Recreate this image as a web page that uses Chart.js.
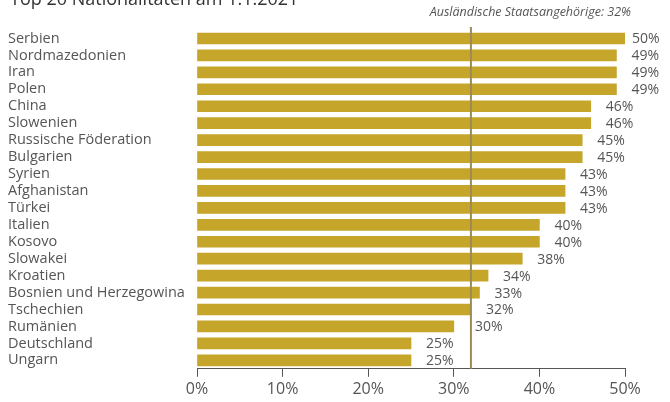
<!DOCTYPE html>
<html>
<head>
<meta charset="utf-8">
<script src="https://cdn.jsdelivr.net/npm/chart.js@4"></script>
<style>
  body { margin: 0; background: #fff; }
  #wrap { width: 670px; height: 402px; position: relative; }
</style>
</head>
<body>
<div id="wrap"><canvas id="nat_chart"></canvas></div>
<script>
// Nationalities and share of foreign citizens (percent).
var countries = ['Serbien', 'Nordmazedonien', 'Iran', 'Polen', 'China', 'Slowenien',
    'Russische Föderation', 'Bulgarien', 'Syrien', 'Afghanistan', 'Türkei', 'Italien',
    'Kosovo', 'Slowakei', 'Kroatien', 'Bosnien und Herzegowina', 'Tschechien',
    'Rumänien', 'Deutschland', 'Ungarn'];
var shares = [50, 49, 49, 49, 46, 46, 45, 45, 43, 43, 43, 40, 40, 38, 34, 33, 32, 30, 25, 25];

// Average over all foreign citizens, drawn as a vertical line.
var average_share = 32;
var average_label = 'Ausländische Staatsangehörige: 32%';
var chart_title = 'Top 20 Nationalitäten am 1.1.2021';

var font_family = '"Open Sans", sans-serif';
var text_gray = '#555';

// Draws the cut-off title, the average line with its caption and the value labels.
var extras = {
    id: 'extras',
    afterDatasetsDraw(chart) {
        const ctx = chart.ctx;
        const area = chart.chartArea;
        const x_scale = chart.scales.x;
        const ax = x_scale.getPixelForValue(average_share);
        ctx.save();

        // Title, mostly above the visible area.
        ctx.fillStyle = '#333';
        ctx.font = '18px ' + font_family;
        ctx.textAlign = 'left';
        ctx.textBaseline = 'alphabetic';
        ctx.fillText(chart_title, 10, 5);

        // Value labels right of each bar, kept clear of the average line.
        ctx.fillStyle = text_gray;
        ctx.font = '14px ' + font_family;
        ctx.textBaseline = 'middle';
        const meta = chart.getDatasetMeta(0);
        meta.data.forEach(function(bar, i) {
            let x = Math.min(bar.x + 15, area.right + 7);
            if (bar.x < ax + 2 && bar.x > ax - 30) {
                x = Math.max(x, ax + 4);
            }
            ctx.fillText(shares[i] + '%', x, bar.y + 1);
        });

        // Average line.
        ctx.strokeStyle = '#9c8b52';
        ctx.lineWidth = 2;
        ctx.beginPath();
        ctx.moveTo(ax, area.top - 3);
        ctx.lineTo(ax, area.bottom);
        ctx.stroke();

        // Caption of the average line.
        ctx.fillStyle = text_gray;
        ctx.font = 'italic 12.5px ' + font_family;
        ctx.textAlign = 'right';
        ctx.textBaseline = 'alphabetic';
        ctx.fillText(average_label, area.right + 6, 16);

        ctx.restore();
    }
};

new Chart(document.getElementById('nat_chart'), {
    type: 'bar',
    data: {
        labels: countries,
        datasets: [{
            data: shares,
            backgroundColor: '#c5a62b',
            borderWidth: 0,
            barThickness: 11
        }]
    },
    options: {
        indexAxis: 'y',
        responsive: true,
        maintainAspectRatio: false,
        animation: false,
        layout: {
            padding: { left: 8, right: 45, top: 30, bottom: 0 }
        },
        plugins: {
            legend: { display: false },
            tooltip: { enabled: false }
        },
        scales: {
            x: {
                min: 0,
                max: 50,
                border: { color: text_gray, width: 1 },
                grid: {
                    drawOnChartArea: false,
                    drawTicks: true,
                    tickLength: 8,
                    color: text_gray
                },
                ticks: {
                    stepSize: 10,
                    color: text_gray,
                    padding: 3,
                    maxRotation: 0,
                    font: { family: font_family, size: 16 },
                    callback: (value) => value + '%'
                }
            },
            y: {
                border: { display: false },
                grid: { display: false },
                afterFit: (scale) => { scale.width = 189; },
                ticks: {
                    crossAlign: 'far',
                    color: text_gray,
                    padding: 0,
                    autoSkip: false,
                    font: { family: font_family, size: 14.5 }
                }
            }
        }
    },
    plugins: [extras]
});
</script>
</body>
</html>
